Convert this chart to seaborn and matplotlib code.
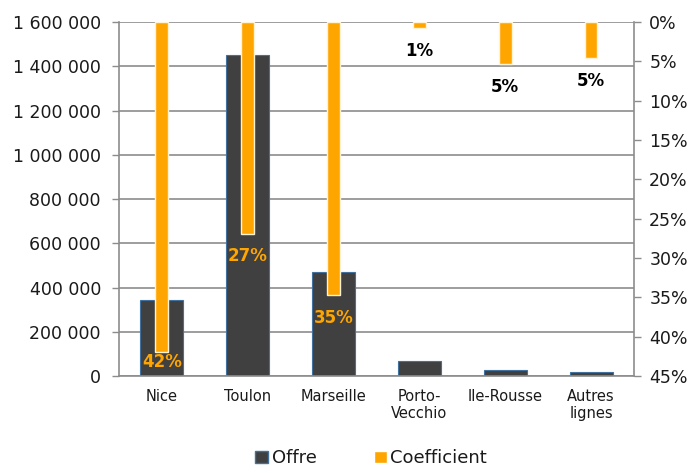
import matplotlib
matplotlib.use("Agg")
import matplotlib.pyplot as plt
import matplotlib.patches as mpatches
import seaborn as sns
import pandas as pd

# DATA
categories = ["Nice", "Toulon", "Marseille", "Porto-\nVecchio", "Ile-Rousse", "Autres\nlignes"]
offre = [345000, 1450000, 470000, 66000, 27000, 18000]
coefficient = [42.0, 26.9, 34.7, 0.8, 5.3, 4.6]
coef_labels = ["42%", "27%", "35%", "1%", "5%", "5%"]

DARK = "#404040"
ORANGE = "#FFA500"
GRID = "#8c8c8c"
TEXT = "#1a1a1a"

sns.set_theme(style="white")
plt.rcParams["font.family"] = ["DejaVu Sans"]

df = pd.DataFrame({"ligne": categories, "offre": offre, "coef": coefficient})

fig = plt.figure(figsize=(6.94, 4.73), dpi=100)
ax = fig.add_axes([0.1715, 0.205, 0.742, 0.7485])

sns.barplot(data=df, x="ligne", y="offre", ax=ax, width=0.5, color=DARK,
            edgecolor="#41719C", linewidth=0.8, saturation=1, zorder=2)
ax.set_ylim(0, 1600000)
ax.set_yticks(range(0, 1600001, 200000))
ax.set_yticklabels([f"{v:,}".replace(",", " ") for v in range(0, 1600001, 200000)],
                   fontsize=12.5, color=TEXT)
ax.yaxis.grid(True, color=GRID, linewidth=1.2, zorder=0)
ax.set_axisbelow(True)
ax.set_xlabel("")
ax.set_ylabel("")
ax.set_xlim(-0.5, 5.5)

# x ticks: labels at centres, marks between categories
ax.set_xticks(range(len(categories)))
ax.set_xticklabels(categories, fontsize=10.5, color=TEXT)
ax.set_xticks([i - 0.5 for i in range(len(categories) + 1)], minor=True)
ax.tick_params(axis="x", which="major", length=0, pad=9)
ax.tick_params(axis="x", which="minor", length=5, color=GRID, width=1)
ax.tick_params(axis="y", length=5, color=GRID, width=1, direction="out", left=True, pad=8)

for side in ["left", "bottom", "right"]:
    ax.spines[side].set_color(GRID)
    ax.spines[side].set_linewidth(1.2)
ax.spines["top"].set_visible(False)

# secondary axis: coefficient, inverted
ax2 = ax.twinx()
sns.barplot(data=df, x="ligne", y="coef", ax=ax2, width=0.15, color=ORANGE,
            edgecolor="#FFF3D6", linewidth=1, saturation=1, zorder=3)
ax2.set_ylim(45, 0)
ax2.set_yticks(range(0, 46, 5))
ax2.set_yticklabels([f"{v}%" for v in range(0, 46, 5)], fontsize=12.5, color=TEXT)
ax2.set_ylabel("")
ax2.tick_params(axis="y", length=5, color=GRID, width=1, direction="out", right=True, pad=6)
for side in ["left", "bottom", "right", "top"]:
    ax2.spines[side].set_visible(False)
ax2.set_xlim(-0.5, 5.5)

for i, (v, lab) in enumerate(zip(coefficient, coef_labels)):
    col = ORANGE if offre[i] > 300000 else "black"
    ax2.text(i, min(v + 2.9, 43.2), lab, ha="center", va="center",
             fontsize=12, fontweight="bold", color=col, zorder=4)

handles = [
    mpatches.Patch(facecolor=DARK, edgecolor="#41719C", label="Offre"),
    mpatches.Patch(facecolor=ORANGE, edgecolor="white", label="Coefficient"),
]
fig.legend(handles=handles, loc="lower center", bbox_to_anchor=(0.535, -0.022), ncol=2,
           frameon=False, fontsize=13, handlelength=0.7, handleheight=0.7,
           handletextpad=0.2, columnspacing=3.2, labelcolor=TEXT)

fig.savefig("out.png", dpi=100)
